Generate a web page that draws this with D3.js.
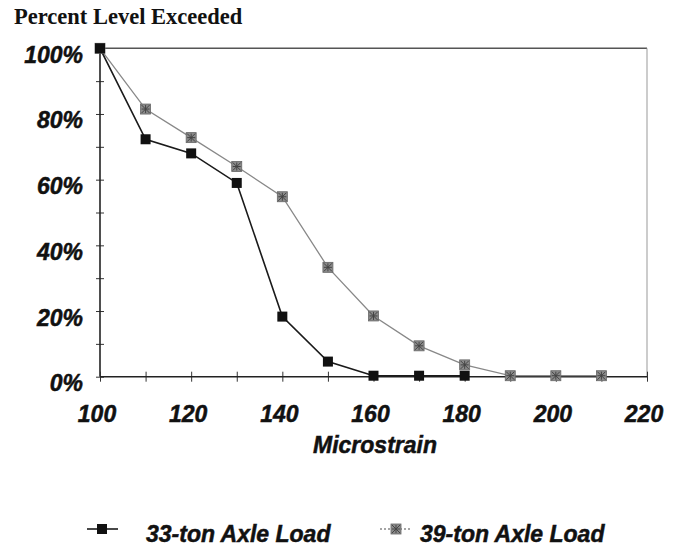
<!DOCTYPE html>
<html>
<head>
<meta charset="utf-8">
<script src="https://cdn.jsdelivr.net/npm/d3@7/dist/d3.min.js"></script>
<style>
  html, body { margin: 0; padding: 0; background: #fff; }
  svg { display: block; }
  .sans { font-family: "Liberation Sans", Arial, sans-serif; font-weight: bold; font-style: italic; stroke: #111; stroke-width: 0.5; }
</style>
</head>
<body>
<svg id="chart" width="678" height="546"></svg>
<script>
// ---- data ----
const xValues33 = [100, 110, 120, 130, 140, 150, 160, 170, 180];
const load33 = [100, 72.3, 68, 59, 18.3, 4.6, 0.3, 0.3, 0.3];
const xValues39 = [100, 110, 120, 130, 140, 150, 160, 170, 180, 190, 200, 210];
const load39 = [100, 81.5, 72.8, 64, 54.8, 33.3, 18.5, 9.4, 3.6, 0.3, 0.3, 0.3];
const xTickLabels = [100, 120, 140, 160, 180, 200, 220];
const yTickLabels = [0, 20, 40, 60, 80, 100];
const seriesNames = ["33-ton Axle Load", "39-ton Axle Load"];
const titleText = "Percent Level Exceeded";
const xAxisTitle = "Microstrain";

const svg = d3.select("#chart");
const x = d3.scaleLinear().domain([100, 220]).range([100, 647]);
const y = d3.scaleLinear().domain([0, 100]).range([376.7, 48.3]);

// frame: top and right
svg.append("line").attr("x1", x(100)).attr("x2", x(220)).attr("y1", y(100)).attr("y2", y(100))
  .attr("stroke", "#555").attr("stroke-width", 1.4);
svg.append("line").attr("x1", x(220)).attr("x2", x(220)).attr("y1", y(100)).attr("y2", y(0))
  .attr("stroke", "#999").attr("stroke-width", 1);

// y axis (ticks crossing)
const yAxis = d3.axisLeft(y).tickValues(d3.range(0, 101, 10)).tickSize(0).tickFormat("");
const gy = svg.append("g").attr("transform", `translate(${x(100)},0)`).call(yAxis);
gy.select(".domain").remove();
gy.selectAll(".tick").append("line").attr("x1", -4).attr("x2", 4).attr("stroke", "#333").attr("stroke-width", 1);
svg.append("line").attr("x1", x(100)).attr("x2", x(100)).attr("y1", y(100)).attr("y2", y(0))
  .attr("stroke", "#222").attr("stroke-width", 1.6);

// x axis (ticks crossing)
const xAxis = d3.axisBottom(x).tickValues(d3.range(100, 221, 10)).tickSize(0).tickFormat("");
const gx = svg.append("g").attr("transform", `translate(0,${y(0)})`).call(xAxis);
gx.select(".domain").remove();
gx.selectAll(".tick").append("line").attr("y1", -5).attr("y2", 5).attr("stroke", "#333").attr("stroke-width", 1);
svg.append("line").attr("x1", x(100)).attr("x2", x(220)).attr("y1", y(0)).attr("y2", y(0))
  .attr("stroke", "#222").attr("stroke-width", 1.6);

// tick labels
svg.selectAll("text.ylab").data(yTickLabels).join("text").attr("class", "ylab sans")
  .attr("x", 83).attr("y", d => y(d) + 14.5).attr("text-anchor", "end")
  .attr("font-size", 23).attr("fill", "#111").text(d => d + "%");
svg.selectAll("text.xlab").data(xTickLabels).join("text").attr("class", "xlab sans")
  .attr("x", d => x(d) - 3).attr("y", 422).attr("text-anchor", "middle")
  .attr("font-size", 23).attr("fill", "#111").text(d => d);

// titles
svg.append("text").attr("x", 14).attr("y", 24)
  .attr("font-family", "'Liberation Serif', 'Times New Roman', serif").attr("font-weight", "bold")
  .attr("font-size", 22.5).attr("fill", "#111").text(titleText);
svg.append("text").attr("class", "sans").attr("x", 375).attr("y", 453).attr("text-anchor", "middle")
  .attr("font-size", 23).attr("fill", "#111").text(xAxisTitle);

// series
const d33 = xValues33.map((v, i) => [v, load33[i]]);
const d39 = xValues39.map((v, i) => [v, load39[i]]);
const line = d3.line().x(d => x(d[0])).y(d => y(d[1]));

svg.append("path").datum(d39).attr("d", line).attr("fill", "none").attr("stroke", "#888").attr("stroke-width", 1.3);
svg.append("path").datum(d33).attr("d", line).attr("fill", "none").attr("stroke", "#1a1a1a").attr("stroke-width", 1.6);

function grayMarker(g, cx, cy) {
  const s = 10;
  g.append("rect").attr("x", cx - s / 2).attr("y", cy - s / 2).attr("width", s).attr("height", s)
    .attr("fill", "#8a8a8a").attr("stroke", "#666").attr("stroke-width", 0.8);
  g.append("path").attr("d", `M${cx - 4},${cy - 4}L${cx + 4},${cy + 4}M${cx + 4},${cy - 4}L${cx - 4},${cy + 4}M${cx - 4},${cy}L${cx + 4},${cy}M${cx},${cy - 4}L${cx},${cy + 4}`)
    .attr("stroke", "#444").attr("stroke-width", 1);
}
function blackMarker(g, cx, cy) {
  const s = 10;
  g.append("rect").attr("x", cx - s / 2).attr("y", cy - s / 2).attr("width", s).attr("height", s)
    .attr("fill", "#111");
}

const g39 = svg.append("g");
d39.forEach(d => grayMarker(g39, x(d[0]), y(d[1])));
const g33 = svg.append("g");
d33.forEach(d => blackMarker(g33, x(d[0]), y(d[1])));

// legend
const lg = svg.append("g");
lg.append("line").attr("x1", 87).attr("x2", 118).attr("y1", 529).attr("y2", 529).attr("stroke", "#1a1a1a").attr("stroke-width", 1.6);
blackMarker(lg, 102, 529);
lg.append("text").attr("class", "sans").attr("x", 146).attr("y", 541.7).attr("font-size", 23).attr("fill", "#111").text(seriesNames[0]);
lg.append("line").attr("x1", 380).attr("x2", 411).attr("y1", 529).attr("y2", 529).attr("stroke", "#888").attr("stroke-width", 1.3).attr("stroke-dasharray", "2,2");
grayMarker(lg, 396, 529);
lg.append("text").attr("class", "sans").attr("x", 420).attr("y", 541.7).attr("font-size", 23).attr("fill", "#111").text(seriesNames[1]);
</script>
</body>
</html>
